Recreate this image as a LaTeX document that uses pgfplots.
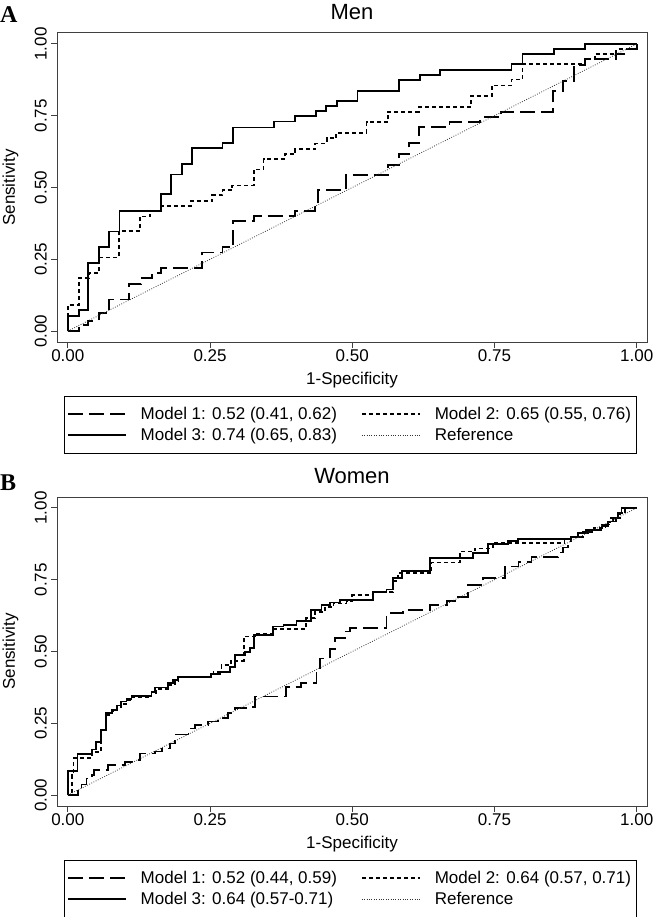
\documentclass[border=0pt]{standalone}
\usepackage{fontspec}
\setmainfont{Liberation Sans}
\newfontfamily\panelfont{Liberation Serif}
\usepackage{pgfplots}
\pgfplotsset{compat=1.18}

\pgfplotsset{
  roc/.style={
    width=590pt, height=309pt, scale only axis,
    xmin=-0.019, xmax=1.018, ymin=-0.038, ymax=1.038,
    xtick={0,0.25,0.5,0.75,1}, ytick={0,0.25,0.5,0.75,1},
    xticklabels={0.00,0.25,0.50,0.75,1.00},
    yticklabels={0.00,0.25,0.50,0.75,1.00},
    xtick pos=bottom, ytick pos=left, tick align=outside,
    major tick length=6pt,
    axis line style={black!75, line width=1pt},
    every tick/.style={black!75, line width=1pt},
    /pgf/number format/assume math mode=true,
    tick label style={font=\fontsize{17}{20}\selectfont},
    xticklabel style={inner sep=1.5pt},
    yticklabel style={rotate=90, anchor=south, inner sep=4pt},
    xlabel={1-Specificity}, ylabel={Sensitivity},
    label style={font=\fontsize{17}{20}\selectfont},
    xlabel style={at={(axis description cs:0.5,-0.136)}, anchor=base},
    ylabel style={at={(axis description cs:-0.0712,0.5)}, anchor=base},
    title style={at={(axis description cs:0.5,1.0227)}, anchor=base,
                 font=\fontsize{22}{26}\selectfont},
    legend columns=2, legend cell align=left,
    legend style={at={(axis description cs:0.4966,-0.1748)}, anchor=north,
                  draw=black, line width=0.8pt, inner xsep=3pt, inner ysep=9pt,
                  row sep=3pt,
                  font=\fontsize{17}{20}\selectfont,
                  /tikz/every odd column/.append style={column sep=12pt},
                  /tikz/every even column/.append style={column sep=22pt}},
    legend image code/.code={\draw[#1] (0pt,0pt) -- (58pt,0pt);},
  },
  m1/.style={black, line width=1.8pt, dash pattern=on 15pt off 6pt, const plot},
  m2/.style={black, line width=1.8pt, dash pattern=on 4pt off 3pt, const plot},
  m3/.style={black, line width=1.8pt, const plot},
  ref/.style={black!80, line width=0.8pt, dash pattern=on 0.8pt off 1.6pt},
}

\begin{document}
\begin{tikzpicture}
\useasboundingbox (0,0) rectangle (654pt,-917pt);

\node[anchor=base west, inner sep=0pt, font=\fontsize{24}{24}\panelfont\bfseries] at (0pt,-23pt) {A};
\node[anchor=base west, inner sep=0pt, font=\fontsize{24}{24}\panelfont\bfseries] at (0pt,-490pt) {B};

% Men
\begin{axis}[roc, at={(57pt,-33pt)}, anchor=north west, title={Men}]
\addplot[m1] coordinates {
 (0,0)(0.019,0.021)(0.036,0.036)(0.055,0.062)(0.073,0.110)(0.107,0.164)
 (0.128,0.184)(0.148,0.201)(0.164,0.219)(0.236,0.274)(0.272,0.292)(0.291,0.382)
 (0.327,0.401)(0.399,0.419)(0.434,0.437)(0.440,0.490)(0.489,0.544)(0.563,0.578)
 (0.582,0.617)(0.600,0.654)(0.617,0.710)(0.671,0.727)(0.725,0.745)(0.762,0.764)
 (0.853,0.837)(0.870,0.872)(0.889,0.927)(0.909,0.947)(0.963,0.965)(0.982,0.983)(1,1)};
\addlegendentry{Model 1: 0.52 (0.41, 0.62)}
\addplot[m2] coordinates {
 (0,0)(0,0.091)(0.019,0.184)(0.037,0.201)(0.055,0.256)(0.090,0.349)(0.127,0.399)
 (0.145,0.418)(0.164,0.436)(0.216,0.453)(0.254,0.474)(0.272,0.491)(0.289,0.507)
 (0.327,0.563)(0.344,0.599)(0.382,0.616)(0.400,0.633)(0.435,0.653)(0.455,0.671)
 (0.472,0.691)(0.525,0.727)(0.563,0.764)(0.617,0.779)(0.709,0.819)(0.745,0.855)
 (0.780,0.876)(0.799,0.929)(0.909,0.947)(0.927,0.965)(0.964,0.983)(1,1)};
\addlegendentry{Model 2: 0.65 (0.55, 0.76)}
\addplot[m3] coordinates {
 (0,0)(0,0.053)(0.019,0.073)(0.036,0.238)(0.055,0.292)(0.073,0.347)(0.091,0.419)
 (0.164,0.476)(0.182,0.545)(0.200,0.581)(0.218,0.638)(0.272,0.655)(0.291,0.709)
 (0.362,0.730)(0.400,0.748)(0.436,0.766)(0.454,0.783)(0.473,0.800)(0.509,0.837)
 (0.582,0.873)(0.619,0.891)(0.654,0.910)(0.780,0.930)(0.799,0.965)(0.854,0.983)
 (0.909,1.000)(1,1)};
\addlegendentry{Model 3: 0.74 (0.65, 0.83)}
\addplot[ref] coordinates {(0,0)(1,1)};
\addlegendentry{Reference}
\end{axis}

% Women
\begin{axis}[roc, at={(57pt,-497pt)}, anchor=north west, title={Women}]
\addplot[m1] coordinates {
 (0,0)(0.018,0.017)(0.024,0.037)(0.033,0.058)(0.042,0.070)(0.046,0.087)(0.071,0.105)
 (0.100,0.116)(0.118,0.122)(0.127,0.145)(0.153,0.152)(0.165,0.162)(0.179,0.180)
 (0.188,0.211)(0.212,0.232)(0.223,0.244)(0.247,0.256)(0.264,0.268)(0.282,0.285)
 (0.294,0.302)(0.314,0.308)(0.329,0.343)(0.384,0.377)(0.410,0.389)(0.437,0.441)
 (0.443,0.476)(0.461,0.509)(0.469,0.546)(0.487,0.570)(0.496,0.581)(0.560,0.633)
 (0.589,0.645)(0.636,0.662)(0.666,0.676)(0.680,0.691)(0.703,0.732)(0.730,0.755)
 (0.768,0.796)(0.792,0.813)(0.815,0.830)(0.862,0.845)(0.871,0.862)(0.879,0.883)
 (0.885,0.900)(0.897,0.912)(0.911,0.924)(0.938,0.942)(0.955,0.965)(0.967,0.977)
 (0.979,1.0)(1,1)};
\addlegendentry{Model 1: 0.52 (0.44, 0.59)}
\addplot[m2] coordinates {
 (0,0)(0.008,0.070)(0.010,0.128)(0.042,0.150)(0.058,0.226)(0.067,0.280)(0.077,0.292)
 (0.086,0.305)(0.094,0.318)(0.103,0.330)(0.112,0.340)(0.147,0.355)(0.155,0.370)
 (0.176,0.383)(0.188,0.397)(0.194,0.412)(0.256,0.430)(0.270,0.453)(0.287,0.468)
 (0.310,0.552)(0.330,0.563)(0.361,0.577)(0.419,0.616)(0.434,0.638)(0.452,0.655)
 (0.467,0.667)(0.490,0.676)(0.500,0.697)(0.537,0.708)(0.572,0.745)(0.580,0.772)
 (0.639,0.810)(0.689,0.848)(0.715,0.859)(0.747,0.879)(0.873,0.890)(0.890,0.900)
 (0.905,0.915)(0.925,0.930)(0.945,0.950)(0.958,0.965)(0.970,0.982)(0.980,1.0)(1,1)};
\addlegendentry{Model 2: 0.64 (0.57, 0.71)}
\addplot[m3] coordinates {
 (0,0)(0,0.084)(0.017,0.143)(0.042,0.159)(0.050,0.186)(0.058,0.226)(0.067,0.285)
 (0.077,0.297)(0.086,0.312)(0.094,0.326)(0.103,0.334)(0.112,0.345)(0.147,0.360)
 (0.153,0.375)(0.176,0.389)(0.185,0.400)(0.194,0.412)(0.251,0.421)(0.268,0.430)
 (0.285,0.447)(0.294,0.488)(0.311,0.497)(0.320,0.513)(0.327,0.557)(0.361,0.587)
 (0.379,0.593)(0.402,0.606)(0.428,0.645)(0.446,0.662)(0.461,0.671)(0.478,0.679)
 (0.537,0.708)(0.560,0.716)(0.572,0.755)(0.587,0.780)(0.636,0.825)(0.712,0.842)
 (0.739,0.873)(0.774,0.885)(0.791,0.892)(0.885,0.900)(0.897,0.912)(0.914,0.924)
 (0.938,0.936)(0.949,0.953)(0.964,0.965)(0.967,0.982)(0.973,1.0)(1,1)};
\addlegendentry{Model 3: 0.64 (0.57-0.71)}
\addplot[ref] coordinates {(0,0)(1,1)};
\addlegendentry{Reference}
\end{axis}
\end{tikzpicture}
\end{document}
